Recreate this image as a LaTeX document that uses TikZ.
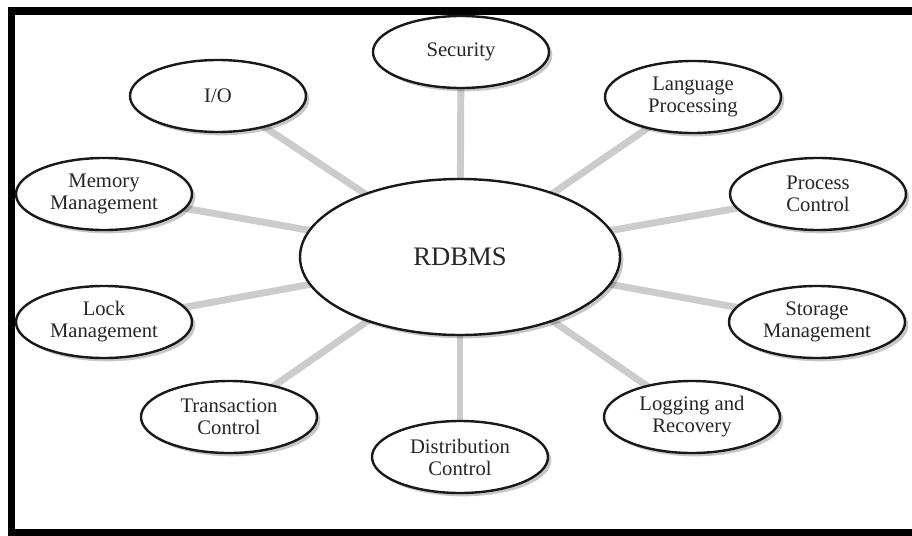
\documentclass[tikz,border=0pt]{standalone}
\usepackage{fontspec}
\setmainfont{Liberation Serif}
\usetikzlibrary{shapes.geometric,shadows}
\pgfdeclarelayer{background}
\pgfsetlayers{background,main}
\tikzset{
  sat/.style={ellipse, draw=black!90, line width=1.8pt, fill=white,
    minimum width=132pt, minimum height=54pt, inner sep=0pt,
    align=center, font=\fontsize{15.5}{16.5}\selectfont, text=black!85,
    drop shadow={shadow xshift=2.5pt, shadow yshift=-2.5pt, opacity=0.22, fill=black}},
  hub/.style={sat, minimum width=240pt, minimum height=117pt,
    font=\fontsize{20}{22}\selectfont},
  spoke/.style={draw=black!20, line width=5.2pt},
  frameline/.style={draw=black, line width=5.5pt}
}
\begin{document}
\begin{tikzpicture}[x=0.75pt,y=-0.75pt]
\useasboundingbox (0,0) rectangle (912,535);
\clip (0,0) rectangle (912,535);
\node[hub] (rdbms) at (460,257) {RDBMS};
\node[sat] (sec)   at (461,52)  {Security};
\node[sat] (io)    at (218,96)  {I/O};
\node[sat] (lang)  at (693,97)  {Language\\Processing};
\node[sat] (mem)   at (104,194) {Memory\\Management};
\node[sat] (proc)  at (818,194) {Process\\Control};
\node[sat] (lock)  at (104,322) {Lock\\Management};
\node[sat] (stor)  at (817,322) {Storage\\Management};
\node[sat] (trans) at (229,417) {Transaction\\Control};
\node[sat] (logg)  at (692,417) {Logging and\\Recovery};
\node[sat] (dist)  at (460,457) {Distribution\\Control};
\begin{pgfonlayer}{background}
\fill[white] (0,0) rectangle (912,535);
\draw[frameline] (915,11) -- (11.5,11) -- (11.5,533) -- (915,533);
\foreach \n in {sec,io,lang,mem,proc,lock,stor,trans,logg,dist}
  \draw[spoke] (rdbms.center) -- (\n.center);
\end{pgfonlayer}
\end{tikzpicture}
\end{document}
